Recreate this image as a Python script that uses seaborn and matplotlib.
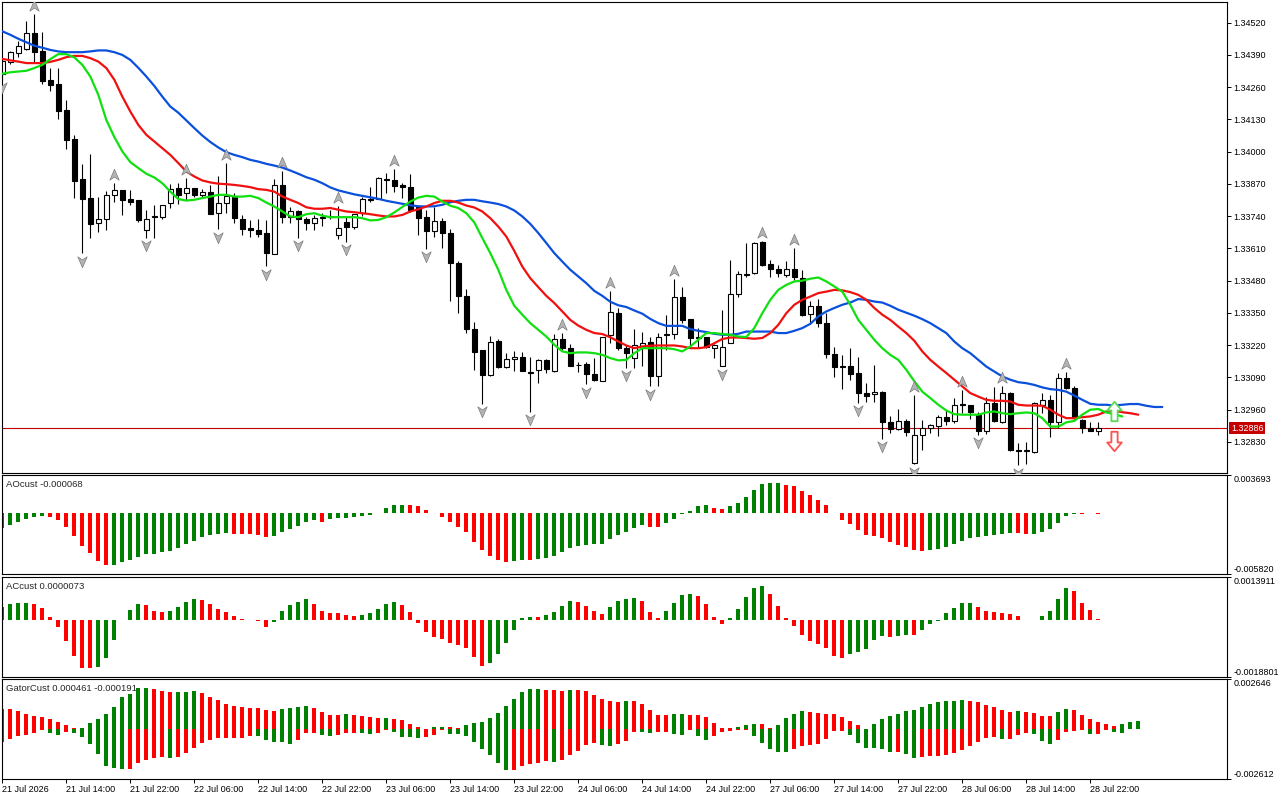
"""MT5-style H1 chart: candles + Alligator, with AO, AC and Gator sub-windows."""

import matplotlib
matplotlib.use("Agg")
import matplotlib.pyplot as plt
import numpy as np
import pandas as pd
import seaborn as sns
from matplotlib.path import Path

# ---- candles (hourly bars, 21 Jul 06:00 .. 28 Jul 23:00) ----
OPEN = [
    1.34314, 1.34362, 1.34398, 1.34415, 1.34479, 1.34406, 1.34290, 1.34273, 1.34169, 1.34052,
    1.33891, 1.33814, 1.33713, 1.33729, 1.33826, 1.33846, 1.33810, 1.33806, 1.33685, 1.33737,
    1.33737, 1.33794, 1.33854, 1.33834, 1.33854, 1.33826, 1.33838, 1.33754, 1.33794, 1.33818,
    1.33729, 1.33693, 1.33685, 1.33673, 1.33588, 1.33866, 1.33737, 1.33762, 1.33729, 1.33713,
    1.33733, 1.33737, 1.33665, 1.33717, 1.33697, 1.33754, 1.33806, 1.33810, 1.33891, 1.33887,
    1.33866, 1.33858, 1.33778, 1.33737, 1.33681, 1.33721, 1.33673, 1.33552, 1.33419, 1.33286,
    1.33201, 1.33101, 1.33238, 1.33133, 1.33165, 1.33173, 1.33109, 1.33121, 1.33161, 1.33117,
    1.33246, 1.33210, 1.33141, 1.33145, 1.33105, 1.33077, 1.33262, 1.33351, 1.33210, 1.33169,
    1.33214, 1.33234, 1.33097, 1.33262, 1.33266, 1.33415, 1.33326, 1.33250, 1.33254, 1.33210,
    1.33137, 1.33230, 1.33427, 1.33504, 1.33512, 1.33637, 1.33548, 1.33528, 1.33504, 1.33528,
    1.33492, 1.33347, 1.33379, 1.33310, 1.33185, 1.33133, 1.33137, 1.33109, 1.33028, 1.33024,
    1.33032, 1.32911, 1.32883, 1.32915, 1.32746, 1.32859, 1.32887, 1.32895, 1.32932, 1.32915,
    1.32984, 1.32980, 1.32940, 1.32875, 1.32988, 1.32911, 1.33028, 1.32798, 1.32794, 1.32790,
    1.32980, 1.32999, 1.32911, 1.33089, 1.33048, 1.32919, 1.32887, 1.32875,
]
HIGH = [
    1.34378, 1.34406, 1.34447, 1.34527, 1.34556, 1.34483, 1.34338, 1.34338, 1.34209, 1.34068,
    1.33951, 1.33991, 1.33818, 1.33842, 1.33875, 1.33846, 1.33846, 1.33806, 1.33766, 1.33786,
    1.33786, 1.33870, 1.33875, 1.33895, 1.33854, 1.33850, 1.33866, 1.33903, 1.33955, 1.33834,
    1.33746, 1.33725, 1.33729, 1.33725, 1.33891, 1.33923, 1.33778, 1.33766, 1.33737, 1.33746,
    1.33754, 1.33766, 1.33782, 1.33737, 1.33750, 1.33818, 1.33858, 1.33899, 1.33915, 1.33931,
    1.33875, 1.33911, 1.33778, 1.33766, 1.33778, 1.33733, 1.33689, 1.33560, 1.33447, 1.33314,
    1.33201, 1.33258, 1.33246, 1.33189, 1.33197, 1.33193, 1.33173, 1.33165, 1.33165, 1.33266,
    1.33270, 1.33226, 1.33153, 1.33153, 1.33169, 1.33254, 1.33439, 1.33371, 1.33222, 1.33286,
    1.33274, 1.33254, 1.33270, 1.33343, 1.33488, 1.33455, 1.33326, 1.33290, 1.33254, 1.33226,
    1.33363, 1.33564, 1.33520, 1.33633, 1.33637, 1.33641, 1.33564, 1.33544, 1.33560, 1.33613,
    1.33524, 1.33399, 1.33407, 1.33351, 1.33214, 1.33181, 1.33210, 1.33173, 1.33068, 1.33141,
    1.33036, 1.32936, 1.32964, 1.32923, 1.33020, 1.32919, 1.32903, 1.32940, 1.32960, 1.33008,
    1.33040, 1.32980, 1.32952, 1.33012, 1.33052, 1.33056, 1.33032, 1.32827, 1.32831, 1.32992,
    1.33028, 1.33020, 1.33109, 1.33113, 1.33056, 1.32923, 1.32911, 1.32911,
]
LOW = [
    1.34290, 1.34354, 1.34382, 1.34410, 1.34362, 1.34273, 1.34245, 1.34132, 1.34012, 1.33814,
    1.33592, 1.33653, 1.33677, 1.33685, 1.33798, 1.33746, 1.33786, 1.33717, 1.33653, 1.33653,
    1.33729, 1.33774, 1.33790, 1.33806, 1.33818, 1.33818, 1.33750, 1.33689, 1.33754, 1.33713,
    1.33665, 1.33657, 1.33657, 1.33540, 1.33588, 1.33713, 1.33713, 1.33653, 1.33685, 1.33685,
    1.33701, 1.33729, 1.33649, 1.33637, 1.33689, 1.33742, 1.33798, 1.33810, 1.33834, 1.33838,
    1.33814, 1.33758, 1.33665, 1.33609, 1.33657, 1.33613, 1.33399, 1.33351, 1.33270, 1.33121,
    1.32984, 1.33097, 1.33129, 1.33129, 1.33117, 1.33117, 1.32952, 1.33068, 1.33109, 1.33113,
    1.33201, 1.33137, 1.33113, 1.33064, 1.33077, 1.33077, 1.33230, 1.33201, 1.33129, 1.33129,
    1.33137, 1.33056, 1.33056, 1.33201, 1.33246, 1.33310, 1.33210, 1.33214, 1.33210, 1.33169,
    1.33137, 1.33230, 1.33415, 1.33496, 1.33508, 1.33540, 1.33496, 1.33496, 1.33496, 1.33484,
    1.33339, 1.33310, 1.33294, 1.33169, 1.33093, 1.33044, 1.33081, 1.32988, 1.32992, 1.32992,
    1.32843, 1.32867, 1.32879, 1.32855, 1.32742, 1.32799, 1.32867, 1.32855, 1.32899, 1.32907,
    1.32948, 1.32923, 1.32859, 1.32863, 1.32911, 1.32907, 1.32794, 1.32738, 1.32742, 1.32786,
    1.32948, 1.32851, 1.32887, 1.33044, 1.32923, 1.32867, 1.32875, 1.32859,
]
CLOSE = [
    1.34366, 1.34402, 1.34427, 1.34479, 1.34402, 1.34286, 1.34269, 1.34165, 1.34048, 1.33883,
    1.33810, 1.33709, 1.33729, 1.33826, 1.33846, 1.33806, 1.33798, 1.33725, 1.33729, 1.33742,
    1.33786, 1.33850, 1.33826, 1.33854, 1.33826, 1.33838, 1.33750, 1.33794, 1.33822, 1.33733,
    1.33689, 1.33685, 1.33669, 1.33592, 1.33866, 1.33737, 1.33762, 1.33729, 1.33713, 1.33733,
    1.33737, 1.33742, 1.33693, 1.33697, 1.33750, 1.33810, 1.33810, 1.33895, 1.33887, 1.33862,
    1.33858, 1.33766, 1.33733, 1.33681, 1.33721, 1.33673, 1.33552, 1.33419, 1.33286, 1.33193,
    1.33101, 1.33234, 1.33133, 1.33165, 1.33173, 1.33117, 1.33113, 1.33161, 1.33125, 1.33246,
    1.33210, 1.33137, 1.33141, 1.33105, 1.33081, 1.33254, 1.33355, 1.33210, 1.33189, 1.33222,
    1.33230, 1.33097, 1.33254, 1.33266, 1.33415, 1.33322, 1.33250, 1.33254, 1.33214, 1.33222,
    1.33214, 1.33427, 1.33508, 1.33508, 1.33633, 1.33544, 1.33528, 1.33512, 1.33528, 1.33496,
    1.33343, 1.33379, 1.33310, 1.33185, 1.33133, 1.33137, 1.33105, 1.33028, 1.33016, 1.33032,
    1.32911, 1.32883, 1.32915, 1.32871, 1.32859, 1.32887, 1.32899, 1.32932, 1.32915, 1.32980,
    1.32980, 1.32952, 1.32875, 1.32988, 1.32915, 1.33028, 1.32798, 1.32794, 1.32798, 1.32988,
    1.32999, 1.32911, 1.33089, 1.33048, 1.32927, 1.32887, 1.32875, 1.32886,
]
LAST_PRICE = 1.32886

# ---- Alligator lines (already shifted forward: jaw +8, teeth +5, lips +3) ----
JAW = [
    1.34485, 1.34471, 1.34455, 1.34441, 1.34427, 1.34419, 1.34410, 1.34404, 1.34401, 1.34401,
    1.34401, 1.34404, 1.34408, 1.34408, 1.34401, 1.34390, 1.34370, 1.34338, 1.34303, 1.34265,
    1.34222, 1.34182, 1.34157, 1.34126, 1.34095, 1.34065, 1.34039, 1.34017, 1.33998, 1.33987,
    1.33978, 1.33967, 1.33960, 1.33951, 1.33944, 1.33936, 1.33924, 1.33911, 1.33897, 1.33887,
    1.33873, 1.33856, 1.33844, 1.33836, 1.33828, 1.33822, 1.33816, 1.33810, 1.33802, 1.33796,
    1.33790, 1.33784, 1.33780, 1.33779, 1.33780, 1.33786, 1.33796, 1.33802, 1.33806, 1.33806,
    1.33800, 1.33795, 1.33789, 1.33779, 1.33763, 1.33739, 1.33709, 1.33672, 1.33632, 1.33591,
    1.33557, 1.33524, 1.33497, 1.33470, 1.33439, 1.33419, 1.33395, 1.33381, 1.33374, 1.33360,
    1.33347, 1.33326, 1.33309, 1.33298, 1.33298, 1.33298, 1.33285, 1.33278, 1.33273, 1.33266,
    1.33262, 1.33262, 1.33266, 1.33275, 1.33275, 1.33275, 1.33275, 1.33269, 1.33269, 1.33278,
    1.33289, 1.33306, 1.33336, 1.33356, 1.33370, 1.33383, 1.33392, 1.33406, 1.33403, 1.33396,
    1.33392, 1.33379, 1.33363, 1.33351, 1.33339, 1.33325, 1.33309, 1.33289, 1.33269, 1.33235,
    1.33208, 1.33188, 1.33161, 1.33134, 1.33114, 1.33094, 1.33081, 1.33071, 1.33067, 1.33060,
    1.33050, 1.33043, 1.33040, 1.33033, 1.33017, 1.33000, 1.32984, 1.32980, 1.32980, 1.32977,
    1.32980, 1.32983, 1.32983, 1.32976, 1.32971, 1.32971,
]
TEETH = [
    1.34374, 1.34368, 1.34363, 1.34357, 1.34357, 1.34357, 1.34362, 1.34370, 1.34381, 1.34386,
    1.34386, 1.34377, 1.34363, 1.34337, 1.34290, 1.34222, 1.34162, 1.34108, 1.34068, 1.34041,
    1.34014, 1.33987, 1.33954, 1.33920, 1.33900, 1.33884, 1.33876, 1.33871, 1.33869, 1.33866,
    1.33862, 1.33857, 1.33849, 1.33846, 1.33839, 1.33819, 1.33806, 1.33793, 1.33776, 1.33770,
    1.33770, 1.33773, 1.33766, 1.33759, 1.33756, 1.33752, 1.33748, 1.33743, 1.33739, 1.33739,
    1.33745, 1.33759, 1.33768, 1.33779, 1.33793, 1.33802, 1.33802, 1.33795, 1.33783, 1.33775,
    1.33759, 1.33732, 1.33698, 1.33658, 1.33600, 1.33537, 1.33490, 1.33454, 1.33419, 1.33390,
    1.33356, 1.33322, 1.33299, 1.33282, 1.33269, 1.33265, 1.33252, 1.33235, 1.33219, 1.33208,
    1.33215, 1.33218, 1.33219, 1.33219, 1.33219, 1.33215, 1.33208, 1.33208, 1.33212, 1.33228,
    1.33245, 1.33251, 1.33251, 1.33249, 1.33246, 1.33249, 1.33269, 1.33302, 1.33349, 1.33383,
    1.33403, 1.33416, 1.33430, 1.33436, 1.33443, 1.33441, 1.33434, 1.33423, 1.33403, 1.33370,
    1.33343, 1.33322, 1.33295, 1.33269, 1.33238, 1.33195, 1.33161, 1.33134, 1.33108, 1.33081,
    1.33054, 1.33027, 1.33013, 1.33000, 1.32996, 1.32996, 1.32993, 1.32980, 1.32977, 1.32977,
    1.32976, 1.32960, 1.32940, 1.32926, 1.32926, 1.32930, 1.32933, 1.32940, 1.32953, 1.32956,
    1.32950, 1.32946, 1.32940,
]
LIPS = [
    1.34314, 1.34320, 1.34323, 1.34326, 1.34337, 1.34350, 1.34373, 1.34393, 1.34393, 1.34380,
    1.34350, 1.34303, 1.34229, 1.34128, 1.34059, 1.34001, 1.33958, 1.33934, 1.33911, 1.33896,
    1.33873, 1.33839, 1.33809, 1.33803, 1.33806, 1.33813, 1.33819, 1.33826, 1.33826, 1.33819,
    1.33819, 1.33822, 1.33813, 1.33795, 1.33779, 1.33759, 1.33739, 1.33736, 1.33748, 1.33752,
    1.33742, 1.33736, 1.33736, 1.33736, 1.33736, 1.33732, 1.33723, 1.33725, 1.33736, 1.33755,
    1.33777, 1.33799, 1.33815, 1.33822, 1.33819, 1.33799, 1.33782, 1.33773, 1.33752, 1.33715,
    1.33652, 1.33591, 1.33524, 1.33443, 1.33379, 1.33343, 1.33309, 1.33282, 1.33255, 1.33222,
    1.33195, 1.33188, 1.33191, 1.33191, 1.33188, 1.33181, 1.33168, 1.33159, 1.33161, 1.33188,
    1.33208, 1.33208, 1.33208, 1.33208, 1.33204, 1.33195, 1.33215, 1.33242, 1.33269, 1.33269,
    1.33265, 1.33262, 1.33255, 1.33253, 1.33289, 1.33349, 1.33403, 1.33443, 1.33463, 1.33477,
    1.33480, 1.33488, 1.33493, 1.33477, 1.33457, 1.33436, 1.33383, 1.33322, 1.33282, 1.33242,
    1.33208, 1.33181, 1.33161, 1.33121, 1.33075, 1.33033, 1.33007, 1.32980, 1.32957, 1.32942,
    1.32940, 1.32940, 1.32940, 1.32949, 1.32953, 1.32946, 1.32942, 1.32946, 1.32949, 1.32946,
    1.32926, 1.32892, 1.32892, 1.32909, 1.32915, 1.32940, 1.32960, 1.32963, 1.32949, 1.32942,
    1.32933,
]

# ---- fractals (bar indices) and the last signal ----
UP_FRACTALS = [4, 14, 23, 28, 35, 42, 49, 70, 76, 84, 95, 99, 114, 120, 125, 133]
DOWN_FRACTALS = [0, 10, 18, 27, 33, 37, 43, 53, 60, 66, 73, 78, 81, 90, 107, 110, 114, 122, 127]
SIGNAL_BAR = 139
SIGNAL_BUY = 1.32953
SIGNAL_SELL = 1.32834

# ---- AO ----
AO = [
    -0.001421, -0.001093, -0.000841, -0.000551, -0.000358, -0.000261, -0.000358, -0.000648, -0.001325, -0.002195,
    -0.003162, -0.003839, -0.004613, -0.004999, -0.004961, -0.004709, -0.004448, -0.004158, -0.003936, -0.003916,
    -0.003742, -0.003578, -0.003355, -0.002930, -0.002611, -0.002292, -0.002098, -0.002002, -0.001905, -0.001934,
    -0.001982, -0.002002, -0.002098, -0.002292, -0.002195, -0.001808, -0.001480, -0.001189, -0.000841, -0.000648,
    -0.000774, -0.000551, -0.000416, -0.000406, -0.000319, -0.000261, -0.000164, 0.000068, 0.000484, 0.000803,
    0.000870, 0.000861, 0.000706, 0.000290, 0.000068, -0.000358, -0.000841, -0.001325, -0.001808, -0.002708,
    -0.003549, -0.004129, -0.004516, -0.004709, -0.004613, -0.004448, -0.004468, -0.004419, -0.004322, -0.004129,
    -0.003742, -0.003355, -0.003162, -0.003065, -0.002978, -0.002959, -0.002485, -0.002098, -0.001808, -0.001421,
    -0.001131, -0.001276, -0.001325, -0.000938, -0.000551, -0.000068, 0.000261, 0.000706, 0.000803, 0.000580,
    0.000387, 0.000677, 0.000967, 0.001576, 0.002224, 0.002804, 0.002901, 0.002930, 0.002708, 0.002611,
    0.002127, 0.001741, 0.001286, 0.000774, 0.000029, -0.000648, -0.001035, -0.001615, -0.002098, -0.002195,
    -0.002388, -0.002775, -0.003065, -0.003259, -0.003549, -0.003646, -0.003549, -0.003452, -0.003259, -0.002969,
    -0.002679, -0.002388, -0.002292, -0.002195, -0.002098, -0.002002, -0.001905, -0.001924, -0.002002, -0.001982,
    -0.001808, -0.001518, -0.000938, -0.000261, -0.000050, -0.000080, 0.000020, -0.000068,
]
AO_RANGE = (-0.005820, 0.003693)

# ---- AC ----
AC = [
    0.0004180, 0.0005035, 0.0005496, 0.0005529, 0.0005167, 0.0003850, 0.0000889, -0.0002402, -0.0007010, -0.0011848,
    -0.0015797, -0.0015896, -0.0015468, -0.0012506, -0.0006582, -0.0000230, 0.0003291, 0.0005035, 0.0004838, 0.0002863,
    0.0002534, 0.0002863, 0.0004180, 0.0005825, 0.0006812, 0.0006483, 0.0005167, 0.0003521, 0.0002534, 0.0001218,
    0.0000230, -0.0000230, -0.0000559, -0.0002402, -0.0000757, 0.0002863, 0.0004838, 0.0005825, 0.0006812, 0.0005167,
    0.0002863, 0.0002205, 0.0002139, 0.0001547, 0.0001218, 0.0001547, 0.0002205, 0.0003521, 0.0005167, 0.0005825,
    0.0004838, 0.0002534, -0.0001086, -0.0004048, -0.0005693, -0.0006352, -0.0007668, -0.0008326, -0.0009314, -0.0012275,
    -0.0015237, -0.0014250, -0.0011288, -0.0007668, -0.0003390, 0.0000658, 0.0000889, 0.0000823, 0.0001547, 0.0002534,
    0.0004509, 0.0006154, 0.0005825, 0.0004509, 0.0002863, 0.0001876, 0.0004180, 0.0006154, 0.0006812, 0.0007141,
    0.0006154, 0.0002534, 0.0000559, 0.0002863, 0.0005496, 0.0008129, 0.0008458, 0.0007800, 0.0005167, 0.0000889,
    -0.0001415, 0.0000559, 0.0003521, 0.0007471, 0.0010432, 0.0011091, 0.0008458, 0.0004509, 0.0000559, -0.0002073,
    -0.0005035, -0.0007010, -0.0007997, -0.0009314, -0.0011946, -0.0012605, -0.0011288, -0.0010630, -0.0009643, -0.0006681,
    -0.0005364, -0.0005693, -0.0005364, -0.0005035, -0.0005101, -0.0003390, -0.0001415, -0.0000329, 0.0002205, 0.0003850,
    0.0005496, 0.0005529, 0.0004180, 0.0002863, 0.0002534, 0.0002205, 0.0001876, 0.0001218, -0.0000165, -0.0000230,
    0.0001218, 0.0002863, 0.0006812, 0.0010432, 0.0009445, 0.0005496, 0.0003192, 0.0000073,
]
AC_RANGE = (-0.0018801, 0.0013911)

# ---- Gator (shifted forward, so it runs past the last candle) ----
GATOR_UP = [
    0.001058, 0.001050, 0.000952, 0.000794, 0.000688, 0.000635, 0.000529, 0.000370, 0.000212, 0.000053,
    0.000090, 0.000333, 0.000529, 0.000794, 0.001164, 0.001693, 0.001852, 0.002169, 0.002174, 0.002116,
    0.002010, 0.001957, 0.001963, 0.001968, 0.002010, 0.001904, 0.001693, 0.001534, 0.001323, 0.001217,
    0.001164, 0.001111, 0.001106, 0.001005, 0.000952, 0.001058, 0.001111, 0.001164, 0.001217, 0.001111,
    0.000899, 0.000741, 0.000735, 0.000794, 0.000741, 0.000688, 0.000635, 0.000582, 0.000587, 0.000529,
    0.000476, 0.000280, 0.000106, 0.000026, 0.000106, 0.000111, 0.000101, 0.000053, 0.000212, 0.000317,
    0.000370, 0.000582, 0.000846, 0.001217, 0.001587, 0.001957, 0.002116, 0.002121, 0.002063, 0.002058,
    0.002010, 0.002063, 0.002058, 0.002010, 0.001799, 0.001587, 0.001481, 0.001428, 0.001481, 0.001476,
    0.001323, 0.001005, 0.000741, 0.000735, 0.000794, 0.000799, 0.000741, 0.000735, 0.000635, 0.000317,
    0.000053, 0.000048, 0.000106, 0.000212, 0.000265, 0.000259, 0.000053, 0.000212, 0.000582, 0.000794,
    0.000952, 0.000899, 0.000846, 0.000794, 0.000788, 0.000635, 0.000423, 0.000212, 0.000010, 0.000265,
    0.000529, 0.000688, 0.000794, 0.000952, 0.001005, 0.001164, 0.001323, 0.001428, 0.001481, 0.001486,
    0.001534, 0.001481, 0.001428, 0.001270, 0.001164, 0.001005, 0.000899, 0.000952, 0.000899, 0.000846,
    0.000688, 0.000682, 0.000899, 0.001058, 0.001005, 0.000741, 0.000529, 0.000370, 0.000265, 0.000159,
    0.000265, 0.000370, 0.000423,
]
GATOR_DOWN = [
    -0.000651, -0.000529, -0.000370, -0.000317, -0.000212, -0.000053, -0.000196, -0.000302, -0.000159, -0.000212,
    -0.000423, -0.000794, -0.001323, -0.001957, -0.002063, -0.002116, -0.002111, -0.001799, -0.001640, -0.001534,
    -0.001481, -0.001534, -0.001481, -0.001270, -0.001005, -0.000725, -0.000582, -0.000476, -0.000471, -0.000466,
    -0.000460, -0.000370, -0.000376, -0.000582, -0.000688, -0.000693, -0.000794, -0.000582, -0.000212, -0.000206,
    -0.000317, -0.000370, -0.000317, -0.000212, -0.000206, -0.000212, -0.000265, -0.000212, -0.000053, -0.000159,
    -0.000423, -0.000428, -0.000476, -0.000423, -0.000317, -0.000053, -0.000265, -0.000270, -0.000370, -0.000688,
    -0.001058, -0.001375, -0.001799, -0.002169, -0.002164, -0.001957, -0.001852, -0.001799, -0.001693, -0.001746,
    -0.001640, -0.001375, -0.001164, -0.000846, -0.000741, -0.000846, -0.000899, -0.000794, -0.000635, -0.000159,
    -0.000164, -0.000212, -0.000159, -0.000153, -0.000265, -0.000317, -0.000053, -0.000370, -0.000582, -0.000370,
    -0.000159, -0.000106, -0.000053, -0.000048, -0.000370, -0.000741, -0.001058, -0.001217, -0.001222, -0.001058,
    -0.000899, -0.000846, -0.000794, -0.000529, -0.000106, -0.000101, -0.000317, -0.000741, -0.001005, -0.001010,
    -0.001058, -0.001217, -0.001211, -0.001323, -0.001534, -0.001481, -0.001428, -0.001423, -0.001375, -0.001270,
    -0.001111, -0.000899, -0.000688, -0.000476, -0.000423, -0.000529, -0.000524, -0.000317, -0.000212, -0.000265,
    -0.000635, -0.000794, -0.000582, -0.000159, -0.000106, -0.000053, -0.000265, -0.000259, -0.000053, -0.000159,
    -0.000212,
]
GATOR_RANGE = (-0.002612, 0.002646)
GATOR_READOUT = (0.000461, -0.000191)

PRICE_TICKS = [1.34520, 1.34390, 1.34260, 1.34130, 1.34000, 1.33870, 1.33740,
               1.33610, 1.33480, 1.33350, 1.33220, 1.33090, 1.32960, 1.32830]
PRICE_RANGE = (1.32705, 1.34602)
TIME_TICKS = list(range(0, 137, 8))
TIME_LABELS = ["21 Jul 2026", "21 Jul 14:00", "21 Jul 22:00", "22 Jul 06:00", "22 Jul 14:00",
               "22 Jul 22:00", "23 Jul 06:00", "23 Jul 14:00", "23 Jul 22:00", "24 Jul 06:00",
               "24 Jul 14:00", "24 Jul 22:00", "27 Jul 06:00", "27 Jul 14:00", "27 Jul 22:00",
               "28 Jul 06:00", "28 Jul 14:00", "28 Jul 22:00"]

GREEN = "#008000"
RED = "#ff0000"
W, H = 1280, 800
X_RANGE = (-0.04, 153.09)
FS = 6.5


def panel(fig, top, bottom):
    """Axes placed by pixel rows, spanning the chart width."""
    left, right = 2, 1227
    return fig.add_axes([left / W, 1 - bottom / H, (right - left) / W, (bottom - top) / H])


def trend_colors(values, first, rising=True):
    d = np.diff(np.asarray(values, dtype=float))
    grow = d > 0 if rising else d < 0
    return [first] + [GREEN if g else RED for g in grow]


def style_frame(ax):
    for sp in ax.spines.values():
        sp.set_color("black")
        sp.set_linewidth(0.8)
    ax.set_xlim(*X_RANGE)
    ax.set_xticks([])
    ax.set_xlabel("")
    ax.set_ylabel("")
    ax.yaxis.tick_right()
    ax.tick_params(axis="y", length=3, width=0.7, pad=1.5, labelsize=FS, colors="black", direction="out")


def sub_scale(ax, lo, hi, fmt):
    ax.set_ylim(lo, hi)
    ax.set_yticks([lo, hi])
    ax.set_yticklabels([fmt.format(lo), fmt.format(hi)])
    ticks = ax.yaxis.get_major_ticks()
    ticks[0].label2.set_va("bottom")
    ticks[1].label2.set_va("top")


def arrow_marker(up=True):
    pts = [(0, 1), (0.75, -0.75), (0, -0.25), (-0.75, -0.75), (0, 1)]
    if not up:
        pts = [(x, -y) for x, y in pts]
    return Path(pts, [Path.MOVETO, Path.LINETO, Path.LINETO, Path.LINETO, Path.CLOSEPOLY])


def block_arrow(up=True):
    pts = [(0, 1), (0.75, 0.1), (0.32, 0.1), (0.32, -1), (-0.32, -1), (-0.32, 0.1), (-0.75, 0.1), (0, 1)]
    if not up:
        pts = [(x, -y) for x, y in pts]
    codes = [Path.MOVETO] + [Path.LINETO] * 6 + [Path.CLOSEPOLY]
    return Path(pts, codes)


def title(ax, text):
    ax.annotate(text, xy=(0, 1), xycoords="axes fraction", xytext=(4, -9),
                textcoords="offset pixels", ha="left", va="center", fontsize=FS + 0.3)


def main():
    sns.set_theme(style="white")
    plt.rcParams["font.family"] = ["Liberation Sans", "DejaVu Sans"]

    fig = plt.figure(figsize=(W / 100, H / 100), dpi=100, facecolor="white")

    # ---------------- main price window ----------------
    ax = panel(fig, 2.3, 473)
    style_frame(ax)
    ax.set_ylim(*PRICE_RANGE)

    o, h, l, c = (np.array(v) for v in (OPEN, HIGH, LOW, CLOSE))
    bars = np.arange(len(c))
    bull = c >= o
    ax.vlines(bars, l, h, color="black", linewidth=0.8, zorder=2)
    ax.bar(bars, np.abs(c - o), bottom=np.minimum(o, c), width=0.6,
           color=np.where(bull, "white", "black"), edgecolor="black", linewidth=0.8, zorder=2.5)

    ax.axhline(LAST_PRICE, color="#c00000", linewidth=0.8, zorder=1.5)

    for values, color in ((JAW, "#0a50dc"), (TEETH, "#f01010"), (LIPS, "#10e010")):
        df = pd.DataFrame({"bar": np.arange(len(values)), "price": values})
        sns.lineplot(data=df, x="bar", y="price", color=color, linewidth=1.6,
                     errorbar=None, ax=ax, zorder=3)
    ax.set_xlabel("")
    ax.set_ylabel("")

    offset = 0.00031
    ax.plot(UP_FRACTALS, h[UP_FRACTALS] + offset, linestyle="none", marker=arrow_marker(True),
            markersize=9, markerfacecolor="#b4b4b4", markeredgecolor="#7a7a7a",
            markeredgewidth=0.5, zorder=4)
    ax.plot(DOWN_FRACTALS, l[DOWN_FRACTALS] - offset, linestyle="none", marker=arrow_marker(False),
            markersize=9, markerfacecolor="#b4b4b4", markeredgecolor="#7a7a7a",
            markeredgewidth=0.5, zorder=4)

    ax.plot([SIGNAL_BAR], [SIGNAL_BUY], linestyle="none", marker=block_arrow(True), markersize=14,
            markerfacecolor="white", markeredgecolor="#5ad85a", markeredgewidth=1.3, zorder=5)
    ax.plot([SIGNAL_BAR], [SIGNAL_SELL], linestyle="none", marker=block_arrow(False), markersize=14,
            markerfacecolor="white", markeredgecolor="#ff5050", markeredgewidth=1.3, zorder=5)

    ax.set_yticks(PRICE_TICKS)
    ax.set_yticklabels([f"{p:.5f}" for p in PRICE_TICKS])
    ax.annotate(f"{LAST_PRICE:.5f}", xy=(1, LAST_PRICE), xycoords=("axes fraction", "data"),
                xytext=(4, 0), textcoords="offset pixels", ha="left", va="center",
                fontsize=FS, color="white",
                bbox=dict(boxstyle="square,pad=0.2", facecolor="#c40000", edgecolor="none"),
                annotation_clip=False)

    # ---------------- AO ----------------
    ax_ao = panel(fig, 475.3, 573.7)
    style_frame(ax_ao)
    ax_ao.bar(np.arange(len(AO)), AO, width=0.5, color=trend_colors(AO, GREEN), linewidth=0)
    sub_scale(ax_ao, *AO_RANGE, "{:.6f}")
    title(ax_ao, f"AOcust {AO[-1]:.6f}")

    # ---------------- AC ----------------
    ax_ac = panel(fig, 577.3, 676.7)
    style_frame(ax_ac)
    ax_ac.bar(np.arange(len(AC)), AC, width=0.5, color=trend_colors(AC, GREEN), linewidth=0)
    sub_scale(ax_ac, *AC_RANGE, "{:.7f}")
    title(ax_ac, f"ACcust {AC[-1]:.7f}")

    # ---------------- Gator ----------------
    ax_g = panel(fig, 679.3, 778.7)
    style_frame(ax_g)
    ax_g.bar(np.arange(len(GATOR_UP)), GATOR_UP, width=0.5,
             color=trend_colors(GATOR_UP, RED), linewidth=0)
    ax_g.bar(np.arange(len(GATOR_DOWN)), GATOR_DOWN, width=0.5,
             color=trend_colors(GATOR_DOWN, RED, rising=False), linewidth=0)
    sub_scale(ax_g, *GATOR_RANGE, "{:.6f}")
    title(ax_g, f"GatorCust {GATOR_READOUT[0]:.6f} {GATOR_READOUT[1]:.6f}")

    ax_g.set_xticks(TIME_TICKS)
    ax_g.set_xticklabels(TIME_LABELS)
    ax_g.tick_params(axis="x", length=3, width=0.7, pad=1.5, labelsize=FS, colors="black",
                     direction="out", bottom=True)
    for lab in ax_g.get_xticklabels():
        lab.set_ha("left")

    fig.savefig("out.png", dpi=100, facecolor="white")


if __name__ == "__main__":
    main()
